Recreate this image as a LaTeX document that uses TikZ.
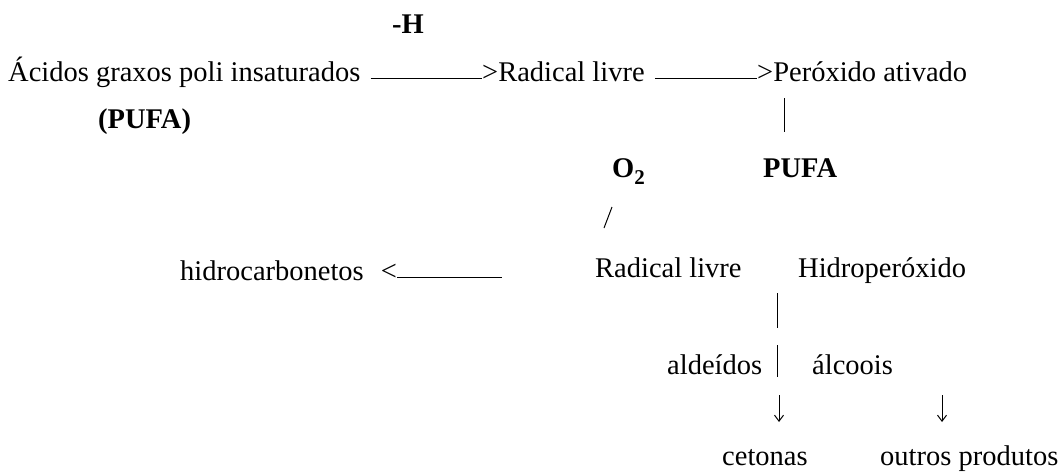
\documentclass[tikz,border=0pt]{standalone}
\usepackage{fontspec}
\setmainfont{Liberation Serif}
\usetikzlibrary{arrows.meta}
\begin{document}
\begin{tikzpicture}[x=1pt,y=-1pt,
  txt/.style={anchor=base west,inner sep=0pt,font=\fontsize{28.5}{34}\selectfont},
  bld/.style={txt,font=\fontsize{28.5}{34}\selectfont\bfseries},
  ln/.style={line width=1pt,black},
  dn/.style={ln,-{Straight Barb[length=6pt,width=9pt]}}]
\useasboundingbox (0,0) rectangle (1064,474);
% texts
\node[bld] (h) at (392,33) {-H};
\node[txt] (acidos) at (8,81) {Ácidos graxos poli insaturados};
\node[txt] (rad1) at (482,81) {>Radical livre};
\node[txt] (perox) at (757,81) {>Peróxido ativado};
\node[bld] (pufa1) at (98,128) {(PUFA)};
\node[bld] (o2) at (612,177) {O\raisebox{-7pt}{\fontsize{21}{21}\selectfont 2}};
\node[bld] (pufa2) at (763,177) {PUFA};
\node[txt] (hidro) at (180,280) {hidrocarbonetos\hspace{17pt}<};
\node[txt] (rad2) at (595,277) {Radical livre};
\node[txt] (hperox) at (798,277) {Hidroperóxido};
\node[txt] (ald) at (667,374) {aldeídos};
\node[txt] (alc) at (812,374) {álcoois};
\node[txt] (cet) at (722,465) {cetonas};
\node[txt] (out) at (880,465) {outros produtos};
% free ends
\coordinate (h1) at (502,0);
\coordinate (v1a) at (784,98);
\coordinate (v1b) at (784,132);
\coordinate (sa) at (604,228);
\coordinate (sb) at (612,207);
\coordinate (v2a) at (777,293);
\coordinate (v2b) at (777,328);
\coordinate (v3a) at (777,345);
\coordinate (v3b) at (777,377);
\coordinate (d1a) at (779,395);
\coordinate (d1b) at (779,422);
\coordinate (d2a) at (942,395);
\coordinate (d2b) at (942,422);
% connectors
\draw[ln,shorten <=10pt] (acidos.mid east) -- (rad1.mid west);
\draw[ln,shorten <=10pt] (rad1.mid east) -- (perox.mid west);
\draw[ln] (v1a) -- (v1b);
\draw[ln] (sa) -- (sb);
\draw[ln] (hidro.mid east) -- (hidro.mid east -| h1);
\draw[ln] (v2a) -- (v2b);
\draw[ln] (v3a) -- (v3b);
\draw[dn] (d1a) -- (d1b);
\draw[dn] (d2a) -- (d2b);
\end{tikzpicture}
\end{document}
